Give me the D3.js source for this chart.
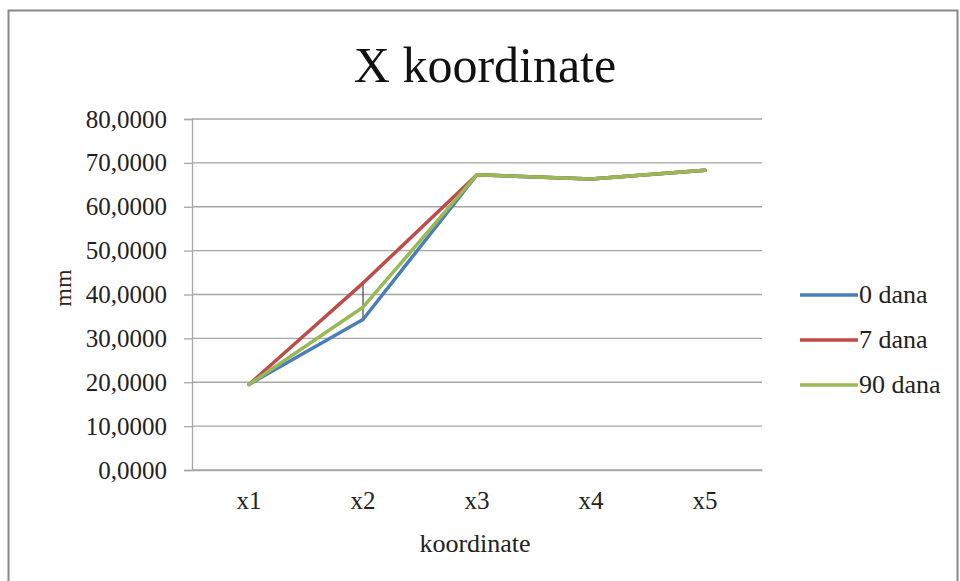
<!DOCTYPE html>
<html><head><meta charset="utf-8">
<script src="https://cdn.jsdelivr.net/npm/d3@7"></script>
<style>body{margin:0;background:#fff}svg{display:block}
svg text{font-family:"Liberation Serif","Times New Roman","DejaVu Serif",serif !important;}</style>
</head><body>
<svg id="c" width="960" height="581"></svg>
<script>
const categories = ["x1","x2","x3","x4","x5"];
const seriesNames = ["0 dana","7 dana","90 dana"];
const s0 = [19.5, 34.3, 67.3, 66.3, 68.3];
const s7 = [19.5, 42.6, 67.3, 66.3, 68.3];
const s90 = [19.5, 37.1, 67.3, 66.3, 68.3];
const yTicks = [0,10,20,30,40,50,60,70,80];
const colors = ["#4A7EBB","#BE4B48","#98B954"];
const series = [s0, s7, s90];

const svg = d3.select("#c");
svg.append("rect").attr("x",8.5).attr("y",10.5).attr("width",949).attr("height",600)
  .attr("fill","#fff").attr("stroke","#888").attr("stroke-width",2);

const L=192, R=762, T=119, B=470;
const x = d3.scaleBand().domain(categories).range([L,R]);
const y = d3.scaleLinear().domain([0,80]).range([B,T]);

svg.append("g").selectAll("line").data(yTicks).join("line")
  .attr("x1",L).attr("x2",R).attr("y1",d=>y(d)).attr("y2",d=>y(d))
  .attr("stroke","#a6a6a6").attr("stroke-width",1.3);

const yAxis = svg.append("g").attr("transform",`translate(${L},0)`)
  .call(d3.axisLeft(y).tickValues(yTicks).tickSize(8).tickPadding(17)
    .tickFormat(d=>d3.format(".4f")(d).replace(".",",")));
yAxis.attr("font-family",null);
yAxis.select(".domain").attr("stroke","#a6a6a6").attr("stroke-width",1.3);
yAxis.selectAll(".tick line").attr("stroke","#a6a6a6").attr("stroke-width",1.3);
yAxis.selectAll("text").attr("font-size",25).attr("fill","#222");

const xAxis = svg.append("g").attr("transform",`translate(0,${B})`)
  .call(d3.axisBottom(x).tickSize(0).tickPadding(21));
xAxis.attr("font-family",null);
xAxis.select(".domain").attr("stroke","#a6a6a6").attr("stroke-width",1.3);
xAxis.selectAll("text").attr("font-size",25).attr("fill","#222");

svg.append("g").selectAll("line").data(categories).join("line")
  .attr("x1",d=>x(d)+x.bandwidth()/2).attr("x2",d=>x(d)+x.bandwidth()/2)
  .attr("y1",(d,i)=>y(d3.max(series,s=>s[i]))).attr("y2",(d,i)=>y(d3.min(series,s=>s[i])))
  .attr("stroke","#222").attr("stroke-width",1);

const line = d3.line().x((d,i)=>x(categories[i])+x.bandwidth()/2).y(d=>y(d));
series.forEach((s,k)=>{
  svg.append("path").attr("d",line(s)).attr("fill","none")
    .attr("stroke",colors[k]).attr("stroke-width",3.5).attr("stroke-linejoin","round").attr("stroke-linecap","round");
});

svg.append("text").attr("x",485).attr("y",82).attr("text-anchor","middle")
  .attr("font-size",50).attr("fill","#111").text("X koordinate");
svg.append("text").attr("x",475).attr("y",552).attr("text-anchor","middle")
  .attr("font-size",26).attr("fill","#222").text("koordinate");
svg.append("text").attr("transform","translate(71,288) rotate(-90)").attr("text-anchor","middle")
  .attr("font-size",24).attr("fill","#222").text("mm");

const lg = svg.append("g").selectAll("g").data(seriesNames).join("g")
  .attr("transform",(d,i)=>`translate(800,${295+i*45})`);
lg.append("line").attr("x1",0).attr("x2",58).attr("stroke",(d,i)=>colors[i]).attr("stroke-width",3.5);
lg.append("text").attr("x",59).attr("y",8).attr("font-size",26)
  .attr("fill","#222").text(d=>d);
</script>
</body></html>
